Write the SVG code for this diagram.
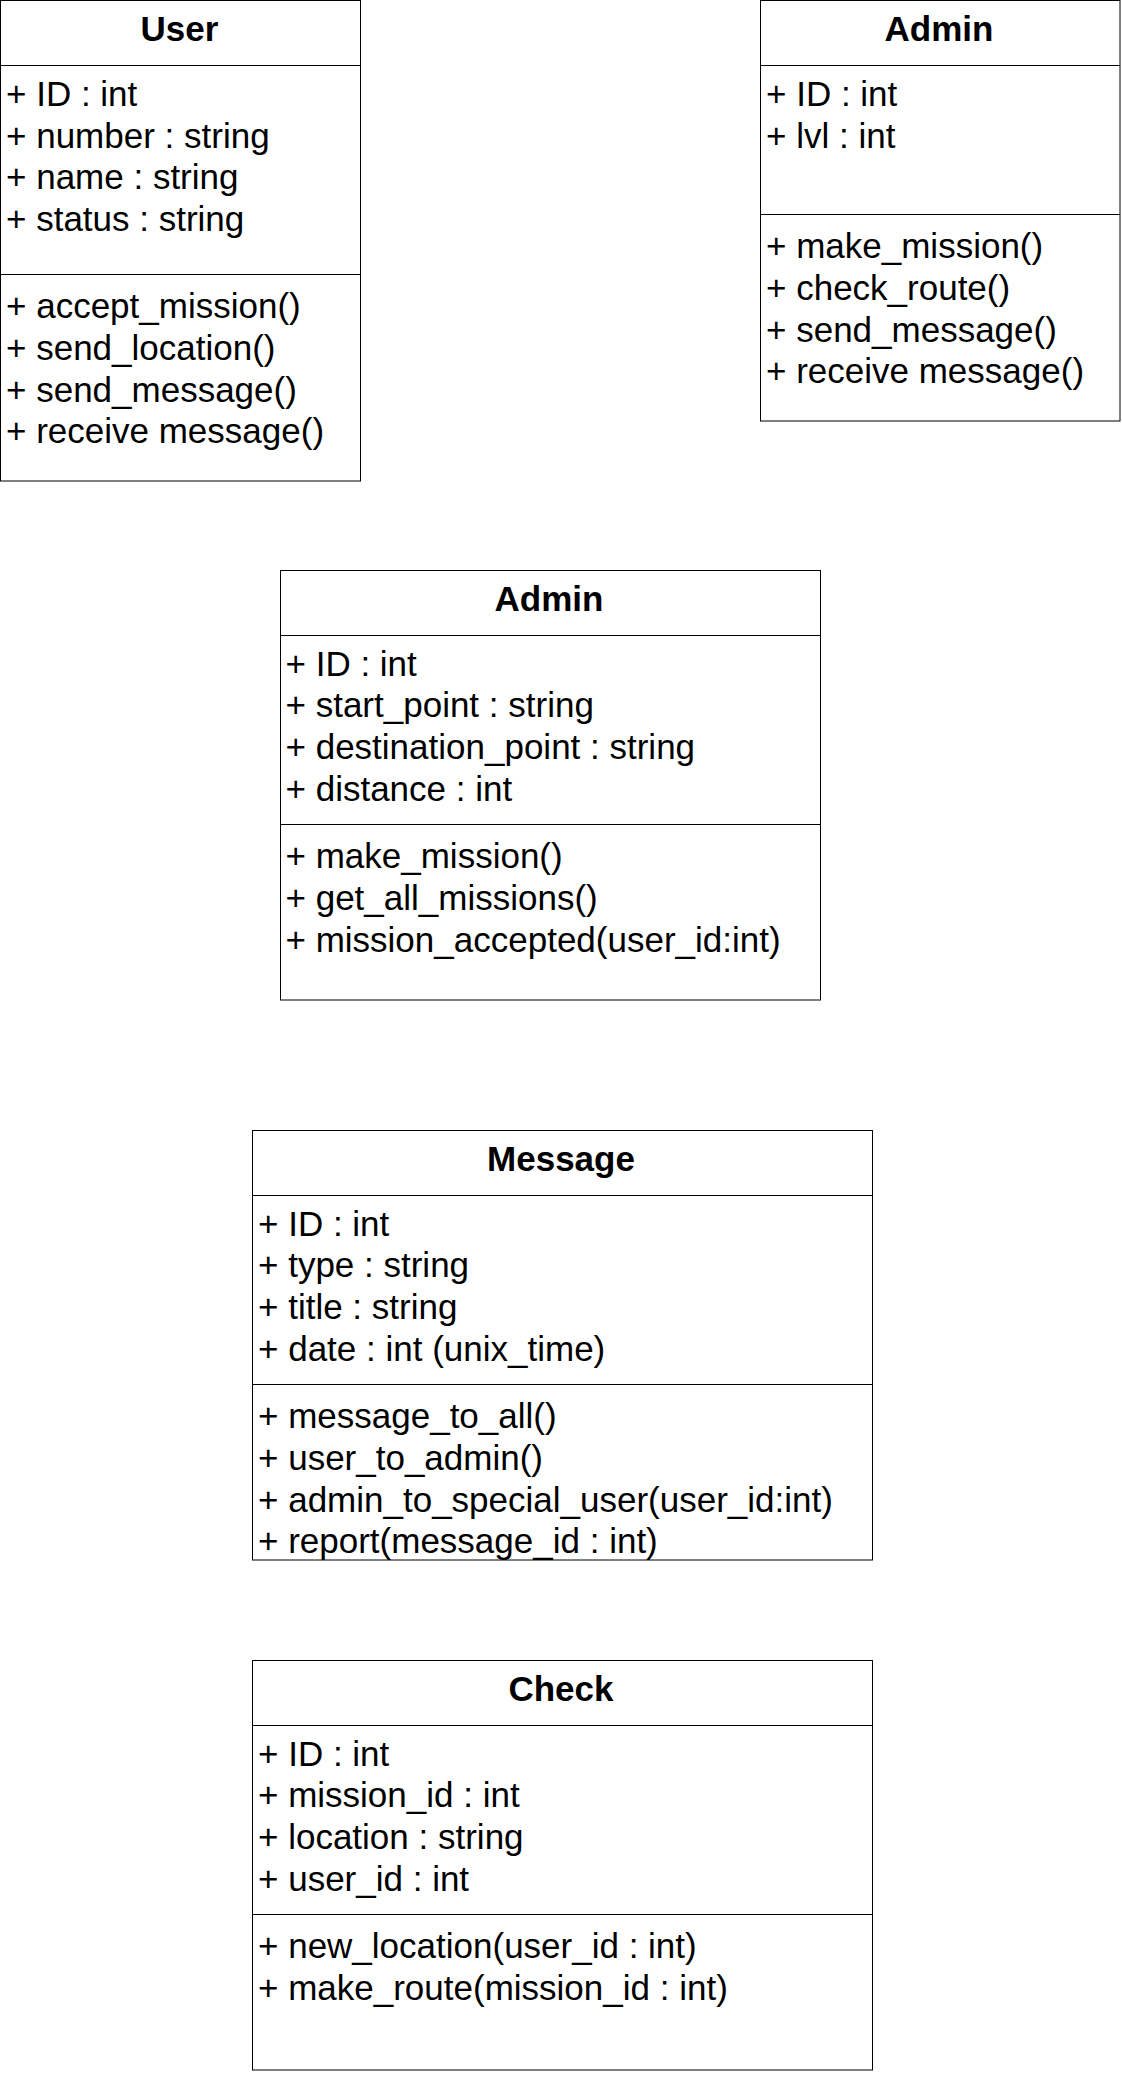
<svg xmlns="http://www.w3.org/2000/svg" width="1122" height="2074" viewBox="0 0 1122 2074">
<style>
.box{fill:#fff;stroke:#000;stroke-width:1}
.ln{stroke:#000;stroke-width:1}
text{font-family:"Liberation Sans",Arial,sans-serif;font-size:35px;fill:#000}
.t{font-weight:bold;text-anchor:middle}
</style>
<rect width="1122" height="2074" fill="#fff"/>
<g id="connectors"/>
<g id="user">
<rect class="box" x="0.5" y="0.5" width="360" height="480.5"/>
<line class="ln" x1="0.5" y1="65.5" x2="360.5" y2="65.5"/>
<line class="ln" x1="0.5" y1="274.5" x2="360.5" y2="274.5"/>
<text class="t" x="179.5" y="40.7">User</text>
<text x="6" y="106">+ ID : int</text>
<text x="6" y="147.7">+ number : string</text>
<text x="6" y="189.3">+ name : string</text>
<text x="6" y="231">+ status : string</text>
<text x="6" y="318.3">+ accept_mission()</text>
<text x="6" y="360">+ send_location()</text>
<text x="6" y="401.7">+ send_message()</text>
<text x="6" y="443.3">+ receive message()</text>
</g>
<g id="admin-top">
<rect class="box" x="760.5" y="0.5" width="359.5" height="420.5"/>
<line class="ln" x1="760.5" y1="65.5" x2="1120" y2="65.5"/>
<line class="ln" x1="760.5" y1="214.5" x2="1120" y2="214.5"/>
<text class="t" x="939" y="40.7">Admin</text>
<text x="766" y="106">+ ID : int</text>
<text x="766" y="147.7">+ lvl : int</text>
<text x="766" y="258.3">+ make_mission()</text>
<text x="766" y="300">+ check_route()</text>
<text x="766" y="341.7">+ send_message()</text>
<text x="766" y="383.3">+ receive message()</text>
</g>
<g id="admin-mission">
<rect class="box" x="280.5" y="570.5" width="540" height="429.5"/>
<line class="ln" x1="280.5" y1="635.5" x2="820.5" y2="635.5"/>
<line class="ln" x1="280.5" y1="824.5" x2="820.5" y2="824.5"/>
<text class="t" x="549" y="611">Admin</text>
<text x="285.5" y="675.7">+ ID : int</text>
<text x="285.5" y="717.3">+ start_point : string</text>
<text x="285.5" y="759">+ destination_point : string</text>
<text x="285.5" y="800.7">+ distance : int</text>
<text x="285.5" y="868.3">+ make_mission()</text>
<text x="285.5" y="910">+ get_all_missions()</text>
<text x="285.5" y="951.7">+ mission_accepted(user_id:int)</text>
</g>
<g id="message">
<rect class="box" x="252.5" y="1130.5" width="620" height="429.5"/>
<line class="ln" x1="252.5" y1="1195.5" x2="872.5" y2="1195.5"/>
<line class="ln" x1="252.5" y1="1384.5" x2="872.5" y2="1384.5"/>
<text class="t" x="561" y="1171">Message</text>
<text x="258" y="1235.7">+ ID : int</text>
<text x="258" y="1277.3">+ type : string</text>
<text x="258" y="1319">+ title : string</text>
<text x="258" y="1360.7">+ date : int (unix_time)</text>
<text x="258" y="1428.3">+ message_to_all()</text>
<text x="258" y="1470">+ user_to_admin()</text>
<text x="258" y="1511.7">+ admin_to_special_user(user_id:int)</text>
<text x="258" y="1553.3">+ report(message_id : int)</text>
</g>
<g id="check">
<rect class="box" x="252.5" y="1660.5" width="620" height="409.5"/>
<line class="ln" x1="252.5" y1="1725.5" x2="872.5" y2="1725.5"/>
<line class="ln" x1="252.5" y1="1914.5" x2="872.5" y2="1914.5"/>
<text class="t" x="561" y="1701">Check</text>
<text x="258" y="1765.7">+ ID : int</text>
<text x="258" y="1807.3">+ mission_id : int</text>
<text x="258" y="1849">+ location : string</text>
<text x="258" y="1890.7">+ user_id : int</text>
<text x="258" y="1958.3">+ new_location(user_id : int)</text>
<text x="258" y="2000">+ make_route(mission_id : int)</text>
</g>
</svg>
